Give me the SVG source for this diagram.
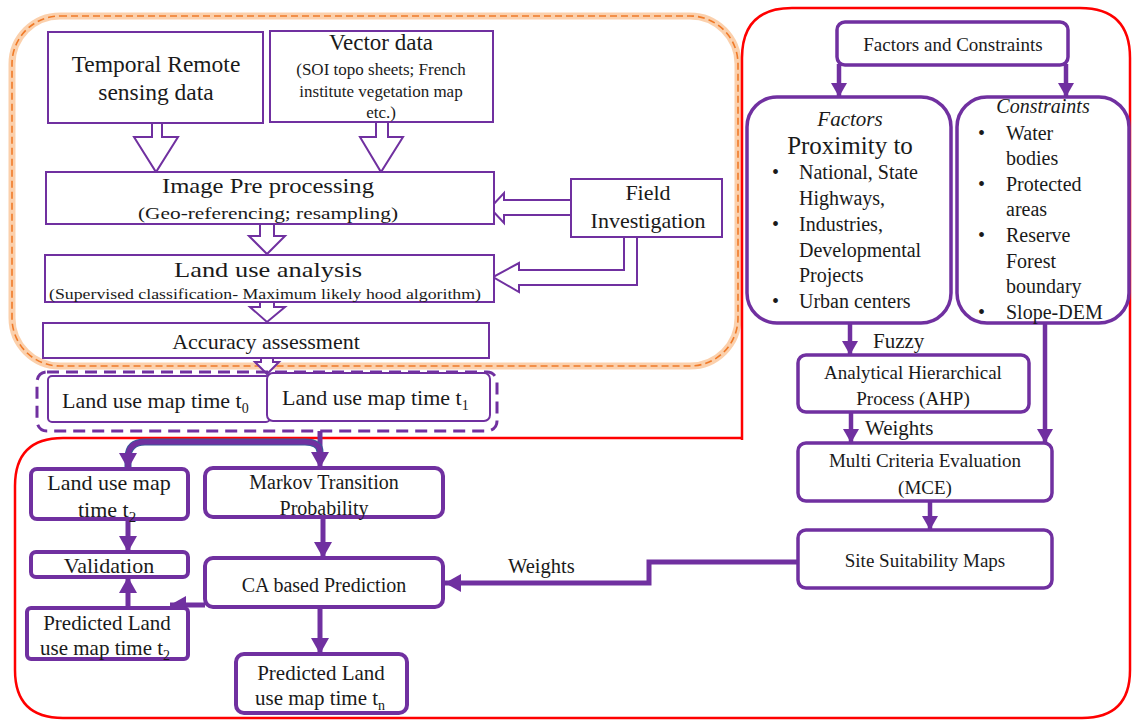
<svg xmlns="http://www.w3.org/2000/svg" width="1132" height="720" viewBox="0 0 1132 720">
<style>
text{font-family:"Liberation Serif","Times New Roman",serif;fill:#1a1a1a}
.c{text-anchor:middle}
.thin{fill:#fff;stroke:#7030A0;stroke-width:2}
.thick{fill:#fff;stroke:#7030A0;stroke-width:4}
.mid{fill:#fff;stroke:#7030A0;stroke-width:3.5}
.hol{fill:#fff;stroke:#7030A0;stroke-width:2;stroke-linejoin:miter}
.ln{fill:none;stroke:#7030A0;stroke-width:5}
.ln4{fill:none;stroke:#7030A0;stroke-width:4.5}
</style>
<defs>
<marker id="ah" markerUnits="userSpaceOnUse" markerWidth="18" markerHeight="18" refX="16" refY="9" orient="auto"><path d="M0,0 L16,9 L0,18 Z" fill="#7030A0"/></marker>
<marker id="ahs" markerUnits="userSpaceOnUse" markerWidth="16" markerHeight="16" refX="14" refY="8" orient="auto"><path d="M0,0 L14,8 L0,16 Z" fill="#7030A0"/></marker>
</defs>
<rect width="1132" height="720" fill="#fff"/>

<g id="containers">
<rect x="12" y="16" width="726" height="350" rx="48" fill="none" stroke="#FAC090" stroke-width="7" opacity="0.75"/>
<rect x="12" y="16" width="726" height="350" rx="48" fill="none" stroke="#F07A28" stroke-width="1.6" stroke-dasharray="7 4"/>
<path d="M742 440 L742 58 Q742 8 792 8 L1080 8 Q1130 8 1130 58 L1130 670 Q1130 718 1082 718 L63 718 Q15 718 15 670 L15 486 Q15 438 63 438 L742 438" fill="none" stroke="#FF0000" stroke-width="2.5"/>
</g>

<g id="connectors">
<polygon class="hol" points="152,123 152,137 134,137 156,172 178,137 162,137 162,123"/>
<polygon class="hol" points="376,122 376,137 360,137 381,172 403,137 388,137 388,122"/>
<polygon class="hol" points="260,224 260,236 249,236 267,254 285,236 274,236 274,224"/>
<polygon class="hol" points="260,302 260,307 250,307 267,322 285,307 274,307 274,302"/>
<polygon class="hol" points="261,358 261,362 255,362 267,374 279,362 273,362 273,358"/>
<polygon class="hol" points="571,200 504,200 504,193 490,208 504,223 504,215 571,215"/>
<polygon class="hol" points="624,237 624,270 519,270 519,263 493,277 519,292 519,285 637,285 637,237"/>

<path d="M320 431 V468" class="ln" marker-end="url(#ah)"/>
<path d="M128 468 V458 Q128 442 145 442 H305 Q320 442 320 452" fill="none" stroke="#3A5A9A" stroke-width="7"/>
<path d="M128 468 V458 Q128 442 145 442 H305 Q320 442 320 452" class="ln"/>
<path d="M128 455 V469" class="ln" marker-end="url(#ah)"/>
<path d="M128 519 V552" class="ln" marker-end="url(#ah)"/>
<path d="M323 517 V558" class="ln" marker-end="url(#ah)"/>
<path d="M205 605 H170" class="ln" marker-end="url(#ah)"/>
<path d="M128 608 V577" class="ln" marker-end="url(#ah)"/>
<path d="M320 607 V654" class="ln" marker-end="url(#ah)"/>
<path d="M798 562 H649 V583 H445" class="ln" marker-end="url(#ah)"/>
<text x="508" y="573" font-size="20.5">Weights</text>

<path d="M839 64 V97" class="ln4" marker-end="url(#ahs)"/>
<path d="M1066 64 V97" class="ln4" marker-end="url(#ahs)"/>
<path d="M850 323 V355" class="ln4" marker-end="url(#ahs)"/>
<path d="M851 412 V443" class="ln4" marker-end="url(#ahs)"/>
<path d="M1045 323 V443" class="ln4" marker-end="url(#ahs)"/>
<path d="M930 501 V530" class="ln4" marker-end="url(#ahs)"/>
<text x="873" y="348" font-size="21">Fuzzy</text>
<text x="865" y="435" font-size="21">Weights</text>
</g>

<g id="temporal">
<rect class="thin" x="48" y="32" width="215" height="91"/>
<text class="c" x="156" y="72" font-size="23.5">Temporal Remote</text>
<text class="c" x="156" y="100" font-size="23.5">sensing data</text>
</g>
<g id="vector">
<rect class="thin" x="270" y="31" width="223" height="91"/>
<text class="c" x="381" y="50" font-size="23">Vector data</text>
<text class="c" x="381" y="75" font-size="17">(SOI topo sheets; French</text>
<text class="c" x="381" y="97" font-size="17">institute vegetation  map</text>
<text class="c" x="381" y="118" font-size="17">etc.)</text>
</g>
<g id="imagepre">
<rect class="thin" x="46" y="172" width="448" height="52"/>
<text class="c" x="268" y="193" font-size="22" textLength="212" lengthAdjust="spacingAndGlyphs">Image Pre processing</text>
<text class="c" x="268" y="219" font-size="17" textLength="260" lengthAdjust="spacingAndGlyphs">(Geo-referencing;  resampling)</text>
</g>
<g id="field">
<rect class="thin" x="571" y="179" width="151" height="58"/>
<text class="c" x="648" y="200" font-size="22">Field</text>
<text class="c" x="648" y="228" font-size="22">Investigation</text>
</g>
<g id="landuse">
<rect class="thin" x="45" y="255" width="449" height="47"/>
<text class="c" x="268" y="277" font-size="22" textLength="188" lengthAdjust="spacingAndGlyphs">Land use analysis</text>
<text class="c" x="265" y="299" font-size="15" textLength="432" lengthAdjust="spacingAndGlyphs">(Supervised classification- Maximum likely hood algorithm)</text>
</g>
<g id="accuracy">
<rect class="thin" x="43" y="323" width="446" height="35"/>
<text class="c" x="266" y="349" font-size="22">Accuracy assessment</text>
</g>

<g id="mapgroup">
<rect x="37" y="372" width="460" height="59" rx="10" fill="none" stroke="#7030A0" stroke-width="3" stroke-dasharray="12 7"/>
</g>
<g id="map_t0">
<rect class="thin" x="48" y="376" width="222" height="46" rx="4"/>
<text x="62" y="408" font-size="22">Land use map time t<tspan font-size="14" dy="5">0</tspan></text>
</g>
<g id="map_t1">
<rect class="thin" x="267" y="373" width="223" height="48" rx="6"/>
<text x="282" y="405" font-size="22">Land use map time t<tspan font-size="14" dy="5">1</tspan></text>
</g>

<g id="map_t2">
<rect class="thick" x="31" y="469" width="157" height="50" rx="6"/>
<text class="c" x="109" y="490" font-size="22">Land use map</text>
<text x="78" y="517" font-size="22">time t<tspan font-size="15" dy="5">2</tspan></text>
</g>
<g id="markov">
<rect class="thick" x="205" y="468" width="238" height="49" rx="8"/>
<text class="c" x="324" y="489" font-size="20">Markov Transition</text>
<text class="c" x="324" y="515" font-size="20">Probability</text>
</g>
<g id="validation">
<rect class="thick" x="31" y="552" width="157" height="25" rx="5"/>
<text class="c" x="109" y="573" font-size="22">Validation</text>
</g>
<g id="ca">
<rect class="thick" x="205" y="558" width="238" height="49" rx="8"/>
<text class="c" x="324" y="592" font-size="20">CA based  Prediction</text>
</g>
<g id="pred_t2">
<rect class="thick" x="27" y="608" width="161" height="51" rx="4"/>
<text class="c" x="107" y="630" font-size="21">Predicted  Land</text>
<text x="40" y="655" font-size="21">use map time t<tspan font-size="14" dy="5">2</tspan></text>
</g>
<g id="pred_tn">
<rect class="thick" x="236" y="654" width="171" height="59" rx="8"/>
<text class="c" x="321" y="680" font-size="21">Predicted  Land</text>
<text x="255" y="705" font-size="21">use map time t<tspan font-size="14" dy="5">n</tspan></text>
</g>

<g id="factorsconstraints">
<rect class="mid" x="837" y="22" width="231" height="43" rx="8"/>
<text class="c" x="953" y="51" font-size="19">Factors and Constraints</text>
</g>
<g id="factors">
<rect class="mid" x="747" y="97" width="204" height="226" rx="30"/>
<text class="c" x="850" y="126" font-size="21" font-style="italic">Factors</text>
<text class="c" x="850" y="154" font-size="25">Proximity to</text>
<text x="772" y="179" font-size="20">•</text><text x="799" y="179" font-size="20">National, State</text>
<text x="799" y="205" font-size="20">Highways,</text>
<text x="772" y="231" font-size="20">•</text><text x="799" y="231" font-size="20">Industries,</text>
<text x="799" y="257" font-size="20">Developmental</text>
<text x="799" y="282" font-size="20">Projects</text>
<text x="772" y="308" font-size="20">•</text><text x="799" y="308" font-size="20">Urban centers</text>
</g>
<g id="constraints">
<rect class="mid" x="957" y="97" width="172" height="226" rx="30"/>
<text class="c" x="1043" y="113" font-size="20" font-style="italic">Constraints</text>
<text x="978" y="140" font-size="20">•</text><text x="1006" y="140" font-size="20">Water</text>
<text x="1006" y="165" font-size="20">bodies</text>
<text x="978" y="191" font-size="20">•</text><text x="1006" y="191" font-size="20">Protected</text>
<text x="1006" y="216" font-size="20">areas</text>
<text x="978" y="242" font-size="20">•</text><text x="1006" y="242" font-size="20">Reserve</text>
<text x="1006" y="268" font-size="20">Forest</text>
<text x="1006" y="293" font-size="20">boundary</text>
<text x="978" y="319" font-size="20">•</text><text x="1006" y="319" font-size="20">Slope-DEM</text>
</g>
<g id="ahp">
<rect class="mid" x="798" y="355" width="231" height="57" rx="8"/>
<text class="c" x="913" y="379" font-size="19">Analytical  Hierarchical</text>
<text class="c" x="913" y="405" font-size="19">Process (AHP)</text>
</g>
<g id="mce">
<rect class="mid" x="798" y="443" width="254" height="58" rx="8"/>
<text class="c" x="925" y="467" font-size="19">Multi Criteria Evaluation</text>
<text class="c" x="925" y="494" font-size="19">(MCE)</text>
</g>
<g id="site">
<rect class="mid" x="798" y="530" width="254" height="58" rx="8"/>
<text class="c" x="925" y="567" font-size="19">Site Suitability Maps</text>
</g>
</svg>
